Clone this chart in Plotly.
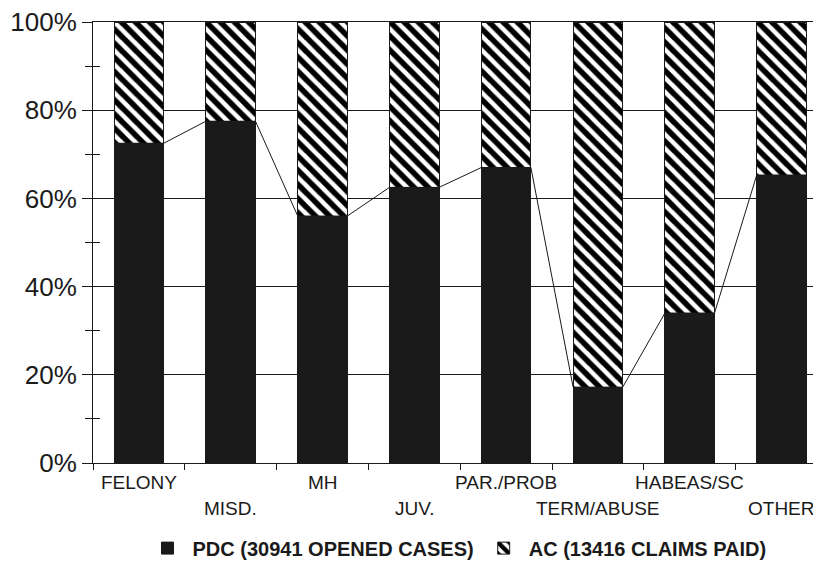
import plotly.graph_objects as go

categories = ["FELONY", "MISD.", "MH", "JUV.", "PAR./PROB", "TERM/ABUSE", "HABEAS/SC", "OTHER"]
pdc_pct = [72.5, 77.5, 56.0, 62.5, 67.0, 17.2, 34.0, 65.3]
ac_pct = [100 - v for v in pdc_pct]
pdc_name = "PDC (30941 OPENED CASES)"
ac_name = "AC (13416 CLAIMS PAID)"
y_ticks = [0, 20, 40, 60, 80, 100]
y_tick_labels = ["0%", "20%", "40%", "60%", "80%", "100%"]
y_minor = [10, 30, 50, 70, 90]

ink = "#1a1a1a"
font = "Liberation Sans, Arial, sans-serif"
bar_w = 0.54
xs = list(range(len(categories)))

fig = go.Figure()
fig.add_trace(go.Bar(
    x=xs, y=pdc_pct, name=pdc_name, width=bar_w,
    marker=dict(color=ink, line=dict(color=ink, width=1)),
))
fig.add_trace(go.Bar(
    x=xs, y=ac_pct, name=ac_name, width=bar_w,
    marker=dict(color="white", line=dict(color=ink, width=1),
                pattern=dict(shape="\\", fgcolor="#000000", bgcolor="white", fgopacity=1,
                             size=10, solidity=0.55)),
))

# line joining the tops of the PDC bars, edge to edge
lx, ly = [], []
for i, v in enumerate(pdc_pct):
    lx += [i - bar_w / 2, i + bar_w / 2]
    ly += [v, v]
fig.add_trace(go.Scatter(x=lx, y=ly, mode="lines", line=dict(color=ink, width=1),
                         showlegend=False, hoverinfo="skip"))

# helper trace for the crossing minor ticks
fig.add_trace(go.Scatter(x=[None], y=[None], yaxis="y2", showlegend=False, hoverinfo="skip"))

for i, c in enumerate(categories):
    fig.add_annotation(x=i, y=-0.045 if i % 2 == 0 else -0.103, xref="x", yref="paper",
                       text=c, showarrow=False, yanchor="middle",
                       font=dict(family=font, size=19, color=ink))

# page body has an 8px margin, so the figure is a little smaller than the window
fig.update_layout(
    width=813, height=561,
    barmode="stack", bargap=0.46,
    paper_bgcolor="white", plot_bgcolor="white",
    margin=dict(l=85, r=0, t=14, b=106, autoexpand=False),
    font=dict(family=font, color=ink),
    xaxis=dict(
        range=[-0.5, 7.43], tickvals=xs, ticktext=[""] * len(xs), ticks="",
        showgrid=False, zeroline=False, showline=True, linecolor=ink, linewidth=1,
        mirror=True, automargin=False,
        minor=dict(tickmode="array", tickvals=[i + 0.5 for i in range(-1, 8)],
                   ticks="outside", ticklen=6, tickcolor=ink, showgrid=False),
    ),
    yaxis=dict(
        range=[0, 100], tickmode="array", tickvals=y_ticks, ticktext=y_tick_labels,
        ticks="outside", ticklen=10, ticklabeloverflow="allow",
        tickcolor=ink, showgrid=True, gridcolor=ink, gridwidth=1, zeroline=False,
        showline=True, linecolor=ink, linewidth=1, automargin=False,
        tickfont=dict(family=font, size=26, color=ink),
        minor=dict(tickmode="array", tickvals=y_minor, ticks="outside",
                   ticklen=7, tickcolor=ink, showgrid=False),
    ),
    yaxis2=dict(
        range=[0, 100], overlaying="y", anchor="x", side="left", automargin=False,
        tickvals=y_minor, ticks="inside", ticklen=7, tickcolor=ink,
        showticklabels=False, showgrid=False, zeroline=False, showline=False,
    ),
    legend=dict(
        orientation="h", x=0.5, xanchor="center", y=-0.193, yanchor="middle",
        traceorder="normal",
        font=dict(family=font, size=20, color=ink, weight="bold"),
        itemwidth=40, bgcolor="rgba(0,0,0,0)",
    ),
    showlegend=True,
)

fig.write_html("out.html")
